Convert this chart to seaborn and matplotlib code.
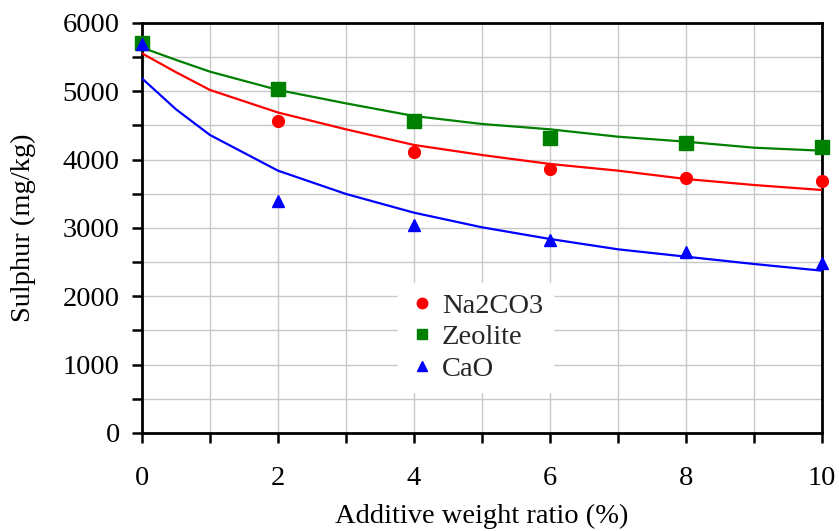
import matplotlib
matplotlib.use("Agg")
import matplotlib.pyplot as plt
from matplotlib.lines import Line2D
from matplotlib.ticker import MultipleLocator
import numpy as np
import pandas as pd
import seaborn as sns

# Measured sulphur content for each additive
ratio = [0, 2, 4, 6, 8, 10]
na2co3 = [5700, 4570, 4110, 3870, 3730, 3690]
zeolite = [5700, 5040, 4560, 4320, 4250, 4190]
cao = [5690, 3390, 3050, 2830, 2650, 2490]

# Fitted trend curves for each additive
fit_ratio = [0, 0.5, 1, 2, 3, 4, 5, 6, 7, 8, 9, 10]
na2co3_fit = [5556, 5280, 5020, 4690, 4444, 4215, 4068, 3937, 3839, 3717, 3629, 3556]
zeolite_fit = [5640, 5460, 5288, 5020, 4824, 4639, 4522, 4444, 4336, 4263, 4175, 4131]
cao_fit = [5190, 4737, 4361, 3839, 3498, 3224, 3010, 2839, 2688, 2580, 2473, 2375]

names = ["Na2CO3", "Zeolite", "CaO"]
colors = {"Na2CO3": "#ff0000", "Zeolite": "#008000", "CaO": "#0000ff"}
markers = {"Na2CO3": "o", "Zeolite": "s", "CaO": "^"}
sizes = {"Na2CO3": 8.5, "Zeolite": 9.5, "CaO": 8}

points = pd.DataFrame({
    "ratio": ratio * 3,
    "sulphur": na2co3 + zeolite + cao,
    "additive": np.repeat(names, len(ratio)),
})
fits = pd.DataFrame({
    "ratio": fit_ratio * 3,
    "sulphur": na2co3_fit + zeolite_fit + cao_fit,
    "additive": np.repeat(names, len(fit_ratio)),
})

sns.set_style("white")
plt.rcParams["font.family"] = ["Liberation Serif", "DejaVu Serif"]
FS = 20.5

fig = plt.figure(figsize=(8.39, 5.31), dpi=100)
ax = fig.add_axes([0.1692, 0.1846, 0.9797 - 0.1692, 0.9567 - 0.1846])

sns.lineplot(data=fits, x="ratio", y="sulphur", hue="additive",
             palette=colors, linewidth=1.6, legend=False, ax=ax, zorder=3)
for name in names:
    sub = points[points["additive"] == name]
    ax.plot(sub["ratio"], sub["sulphur"], linestyle="none",
            marker=markers[name], color=colors[name],
            markersize=sizes[name], zorder=4, clip_on=False)

ax.set_xlim(0, 10)
ax.set_ylim(0, 6000)
ax.xaxis.set_major_locator(MultipleLocator(2))
ax.xaxis.set_minor_locator(MultipleLocator(1))
ax.yaxis.set_major_locator(MultipleLocator(1000))
ax.yaxis.set_minor_locator(MultipleLocator(500))

ax.grid(True, which="both", color="#c8c8c8", linewidth=1.0)
ax.set_axisbelow(True)

for side in ax.spines.values():
    side.set_color("black")
    side.set_linewidth(2.0)

ax.tick_params(axis="both", which="both", direction="out", length=7,
               width=1.8, color="black", labelsize=FS, labelcolor="black")
ax.tick_params(axis="x", which="both", bottom=True, pad=17)
ax.tick_params(axis="y", which="both", left=True, pad=9)

ax.set_xlabel("Additive weight ratio (%)", fontsize=FS, labelpad=9, color="black")
ax.set_ylabel("Sulphur (mg/kg)", fontsize=FS, labelpad=19, color="black")

handles = [Line2D([], [], linestyle="none", marker=markers[n], color=colors[n],
                  markersize=7.5 if n != "CaO" else 6.5) for n in names]
leg = ax.legend(handles, names, loc="center", bbox_to_anchor=(0.49, 0.233),
                frameon=True, fontsize=FS, handletextpad=0.2,
                labelspacing=0.2, borderpad=0.35, handlelength=1.0,
                borderaxespad=0)
leg.get_frame().set_facecolor("white")
leg.get_frame().set_edgecolor("white")
leg.get_frame().set_alpha(1)
leg.get_frame().set_boxstyle("square", pad=0.0)

fig.savefig("out.png", dpi=100)
